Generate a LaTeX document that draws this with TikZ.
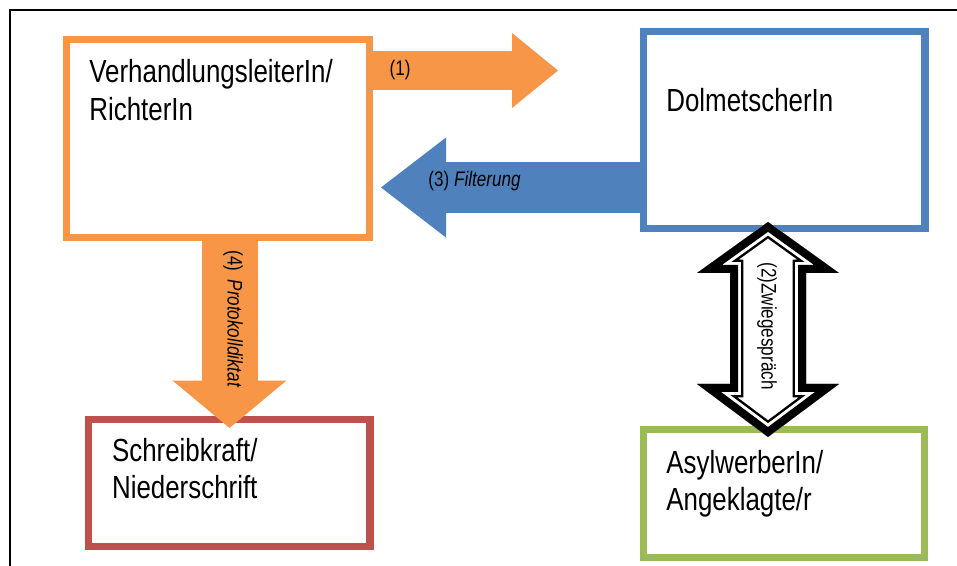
\documentclass[tikz,border=0pt]{standalone}
\usepackage{fontspec}
\setmainfont[FakeStretch=0.81]{Liberation Sans}
\usetikzlibrary{arrows.meta}
\definecolor{boxorange}{HTML}{F79646}
\definecolor{boxblue}{HTML}{4F81BD}
\definecolor{boxred}{HTML}{C0504D}
\definecolor{boxgreen}{HTML}{9BBB59}
\tikzset{
  box/.style={rectangle, draw=#1, line width=4pt, fill=white, inner sep=0pt},
  boxtext/.style={anchor=north west, align=left, inner sep=0pt, font=\fontsize{18.2}{21.3}\selectfont},
  arrowtext/.style={inner sep=0pt, font=\fontsize{12}{14}\selectfont},
  blockarrow/.style n args={4}{draw=#1, line width=#2, -{Triangle[length=#3, width=#4, line width=0pt]}}
}

\begin{document}
\begin{tikzpicture}
  \useasboundingbox (0,0) rectangle (19.14,11.32);
  \draw[line width=1.3pt] (0.2,-0.1) -- (0.2,11.12) -- (19.3,11.12);

  \node[box=boxorange, minimum width=6.06cm, minimum height=3.96cm] (lead) at (4.36,8.55) {};
  \node[box=boxblue, minimum width=5.63cm, minimum height=3.94cm] (interp) at (15.685,8.72) {};
  \node[box=boxred, minimum width=5.63cm, minimum height=2.54cm] (clerk) at (4.585,1.66) {};
  \node[box=boxgreen, minimum width=5.62cm, minimum height=2.55cm] (asylum) at (15.676,1.45) {};

  \node[boxtext] (leadtext) at (1.78,10.134) {VerhandlungsleiterIn/\\RichterIn};
  \node[boxtext] (interptext) at (13.32,9.56) {DolmetscherIn};
  \node[boxtext] (clerktext) at (2.234,2.56) {Schreibkraft/\\Niederschrift};
  \node[boxtext] (asylumtext) at (13.32,2.32) {AsylwerberIn/\\Angeklagte/r};

  \coordinate (tipone) at (11.16,9.91);
  \coordinate (tipthree) at (7.62,7.57);
  \coordinate (tipfour) at (4.59,2.76);

  \draw[blockarrow={boxorange}{0.78cm}{0.92cm}{1.5cm}] (lead.east |- tipone) -- (tipone);
  \draw[blockarrow={boxblue}{1.02cm}{1.3cm}{2.0cm}] (interp.west |- tipthree) -- (tipthree);
  \draw[blockarrow={boxorange}{1.12cm}{0.946cm}{2.27cm}] (lead.south -| tipfour) -- (tipfour);

  \begin{scope}
    \fill[white] (15.36,6.88) -- (16.78,5.86) -- (16.12,5.86) -- (16.12,3.64) -- (16.78,3.64) -- (15.36,2.58) -- (13.94,3.64) -- (14.60,3.64) -- (14.60,5.86) -- (13.94,5.86) -- cycle;
    \clip (15.36,6.88) -- (16.78,5.86) -- (16.12,5.86) -- (16.12,3.64) -- (16.78,3.64) -- (15.36,2.58) -- (13.94,3.64) -- (14.60,3.64) -- (14.60,5.86) -- (13.94,5.86) -- cycle;
    \foreach \w/\c in {15.3pt/black, 12.5pt/white, 9.1pt/black}
      \draw[line width=\w, draw=\c, line join=miter] (15.36,6.88) -- (16.78,5.86) -- (16.12,5.86) -- (16.12,3.64) -- (16.78,3.64) -- (15.36,2.58) -- (13.94,3.64) -- (14.60,3.64) -- (14.60,5.86) -- (13.94,5.86) -- cycle;
  \end{scope}

  \node[arrowtext] (labone) at (8.0,9.92) {(1)};
  \node[arrowtext] (labthree) at (9.49,7.69) {(3) \textit{Filterung}};
  \node[arrowtext, rotate=-90] (labfour) at (4.66,4.94) {(4)\, \textit{Protokolldiktat}};
  \node[arrowtext, rotate=-90] (labtwo) at (15.34,4.8) {(2)Zwiegespräch};
\end{tikzpicture}
\end{document}
